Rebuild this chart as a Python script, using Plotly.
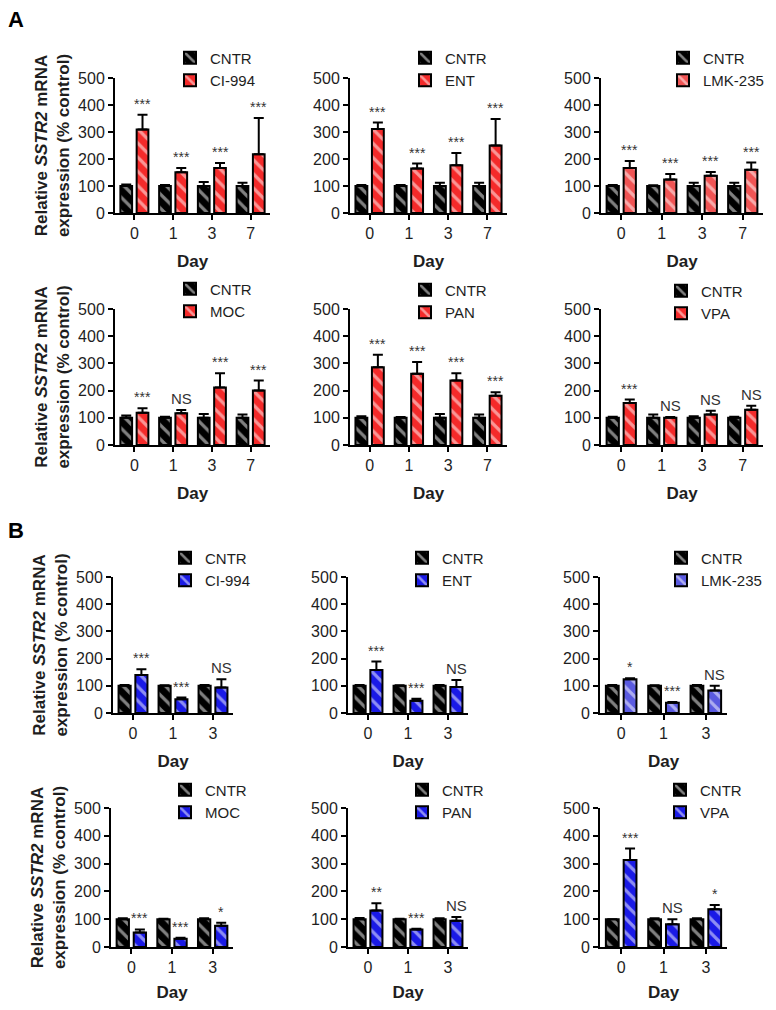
import plotly.graph_objects as go

# ---------------- data ----------------
days_A = ["0", "1", "3", "7"]
days_B = ["0", "1", "3"]

# Panel A (red)
A_CI994_cntr = [100, 100, 100, 100]
A_CI994_cntr_err = [6, 4, 15, 12]
A_CI994_trt = [309, 151, 167, 218]
A_CI994_trt_err = [55, 16, 18, 134]
A_CI994_sig = ["***", "***", "***", "***"]

A_ENT_cntr = [100, 100, 100, 100]
A_ENT_cntr_err = [4, 4, 12, 12]
A_ENT_trt = [311, 165, 177, 250]
A_ENT_trt_err = [24, 18, 45, 98]
A_ENT_sig = ["***", "***", "***", "***"]

A_LMK_cntr = [100, 100, 100, 100]
A_LMK_cntr_err = [4, 3, 12, 12]
A_LMK_trt = [167, 124, 138, 160]
A_LMK_trt_err = [26, 20, 14, 27]
A_LMK_sig = ["***", "***", "***", "***"]

A_MOC_cntr = [100, 100, 100, 100]
A_MOC_cntr_err = [8, 4, 14, 12]
A_MOC_trt = [119, 117, 211, 200]
A_MOC_trt_err = [16, 12, 53, 37]
A_MOC_sig = ["***", "NS", "***", "***"]

A_PAN_cntr = [100, 100, 100, 100]
A_PAN_cntr_err = [6, 3, 14, 12]
A_PAN_trt = [286, 262, 237, 181]
A_PAN_trt_err = [46, 43, 27, 13]
A_PAN_sig = ["***", "***", "***", "***"]

A_VPA_cntr = [100, 100, 100, 100]
A_VPA_cntr_err = [4, 12, 6, 4]
A_VPA_trt = [154, 100, 112, 130]
A_VPA_trt_err = [13, 3, 14, 14]
A_VPA_sig = ["***", "NS", "NS", "NS"]

# Panel B (blue)
B_CI994_cntr = [100, 100, 100]
B_CI994_cntr_err = [3, 2, 3]
B_CI994_trt = [140, 51, 94]
B_CI994_trt_err = [21, 6, 30]
B_CI994_sig = ["***", "***", "NS"]

B_ENT_cntr = [100, 100, 100]
B_ENT_cntr_err = [3, 2, 3]
B_ENT_trt = [158, 45, 96]
B_ENT_trt_err = [31, 7, 25]
B_ENT_sig = ["***", "***", "NS"]

B_LMK_cntr = [100, 100, 100]
B_LMK_cntr_err = [3, 2, 3]
B_LMK_trt = [124, 38, 83]
B_LMK_trt_err = [4, 2, 17]
B_LMK_sig = ["*", "***", "NS"]

B_MOC_cntr = [100, 100, 100]
B_MOC_cntr_err = [3, 2, 3]
B_MOC_trt = [52, 30, 76]
B_MOC_trt_err = [11, 3, 11]
B_MOC_sig = ["***", "***", "*"]

B_PAN_cntr = [100, 100, 100]
B_PAN_cntr_err = [4, 2, 3]
B_PAN_trt = [131, 63, 94]
B_PAN_trt_err = [26, 3, 14]
B_PAN_sig = ["**", "***", "NS"]

B_VPA_cntr = [100, 100, 100]
B_VPA_cntr_err = [0, 3, 3]
B_VPA_trt = [313, 82, 136]
B_VPA_trt_err = [41, 18, 15]
B_VPA_sig = ["***", "NS", "*"]

y_ticks = [0, 100, 200, 300, 400, 500]

# ---------------- styling / layout ----------------
PAGE_W, PAGE_H = 776, 1010
BODY = 8                      # default page body margin
W, H = PAGE_W - 2 * BODY, PAGE_H - 2 * BODY
FONT = "Liberation Sans, Arial, Helvetica, sans-serif"
TXT = "#1e1e1e"
RED = "#f42a2a"
RED_L = "#f05454"
BLUE = "#1a1ae6"
BLUE_L = "#5a5ae0"
bargap = 0.16
bargroupgap = 0.28
half = (1 - bargap) / 4


def fx(px):
    return (px - BODY) / W


def fy(py):
    return 1 - (py - BODY) / H


# (label, days, cntr, cntr_err, trt, trt_err, sig, colour, x px domain, y px domain, legend text x, legend mid y, ytitle)
panels = [
    ("CI-994", days_A, A_CI994_cntr, A_CI994_cntr_err, A_CI994_trt, A_CI994_trt_err, A_CI994_sig, RED, (115, 270), (78, 213), 210, 69, True),
    ("ENT", days_A, A_ENT_cntr, A_ENT_cntr_err, A_ENT_trt, A_ENT_trt_err, A_ENT_sig, RED, (350, 507), (78, 213), 445, 69, False),
    ("LMK-235", days_A, A_LMK_cntr, A_LMK_cntr_err, A_LMK_trt, A_LMK_trt_err, A_LMK_sig, RED_L, (601, 763), (78, 213), 703, 69, False),
    ("MOC", days_A, A_MOC_cntr, A_MOC_cntr_err, A_MOC_trt, A_MOC_trt_err, A_MOC_sig, RED, (115, 270), (309, 445), 210, 300, True),
    ("PAN", days_A, A_PAN_cntr, A_PAN_cntr_err, A_PAN_trt, A_PAN_trt_err, A_PAN_sig, RED, (350, 507), (309, 445), 445, 301, False),
    ("VPA", days_A, A_VPA_cntr, A_VPA_cntr_err, A_VPA_trt, A_VPA_trt_err, A_VPA_sig, RED, (601, 763), (309, 445), 701, 302, False),
    ("CI-994", days_B, B_CI994_cntr, B_CI994_cntr_err, B_CI994_trt, B_CI994_trt_err, B_CI994_sig, BLUE, (113, 233), (577, 713), 205, 569, True),
    ("ENT", days_B, B_ENT_cntr, B_ENT_cntr_err, B_ENT_trt, B_ENT_trt_err, B_ENT_sig, BLUE, (348, 468), (577, 713), 442, 569, False),
    ("LMK-235", days_B, B_LMK_cntr, B_LMK_cntr_err, B_LMK_trt, B_LMK_trt_err, B_LMK_sig, BLUE_L, (600, 727), (577, 713), 701, 569, False),
    ("MOC", days_B, B_MOC_cntr, B_MOC_cntr_err, B_MOC_trt, B_MOC_trt_err, B_MOC_sig, BLUE, (111, 233), (808, 947), 205, 801, True),
    ("PAN", days_B, B_PAN_cntr, B_PAN_cntr_err, B_PAN_trt, B_PAN_trt_err, B_PAN_sig, BLUE, (348, 468), (808, 947), 442, 801, False),
    ("VPA", days_B, B_VPA_cntr, B_VPA_cntr_err, B_VPA_trt, B_VPA_trt_err, B_VPA_sig, BLUE, (600, 727), (808, 947), 700, 801, False),
]

fig = go.Figure()
layout = {}
annotations = []

for k, (drug, days, cntr, cntr_err, trt, trt_err, sig, col, xd, yd, lx, ly, ytitle) in enumerate(panels, start=1):
    n = len(days)
    xs = list(range(n))
    sfx = "" if k == 1 else str(k)
    leg = "legend" if k == 1 else f"legend{k}"
    for name, vals, errs, colour in (("CNTR", cntr, cntr_err, "black"), (drug, trt, trt_err, col)):
        fig.add_trace(go.Bar(
            x=xs, y=vals, name=name,
            xaxis=f"x{sfx}", yaxis=f"y{sfx}", legend=leg,
            marker=dict(color=colour, line=dict(color="black", width=2),
                        pattern=dict(shape="\\", fgcolor="white", fillmode="overlay",
                                     size=10, solidity=0.32)),
            error_y=dict(type="data", array=errs, arrayminus=[0] * n, symmetric=False,
                         color="black", thickness=2, width=5),
            showlegend=True, hoverinfo="skip",
        ))
    for i in xs:
        annotations.append(dict(
            x=i + half, y=trt[i] + trt_err[i], xref=f"x{sfx}", yref=f"y{sfx}",
            text=sig[i], showarrow=False, yanchor="bottom", yshift=1,
            font=dict(size=15 if sig[i] == "NS" else 14, color="#333333", family=FONT),
        ))
    layout[f"xaxis{sfx}"] = dict(
        domain=[fx(xd[0]), fx(xd[1])], anchor=f"y{sfx}",
        range=[-0.5, n - 0.5], tickmode="array", tickvals=xs, ticktext=days,
        ticks="outside", ticklen=5, tickwidth=2, tickcolor="black",
        showline=True, linewidth=2, linecolor="black", showgrid=False, zeroline=False,
        tickfont=dict(size=16, color=TXT, family=FONT), automargin=False,
        title=dict(text="<b>Day</b>", font=dict(size=17, color=TXT, family=FONT), standoff=14),
        fixedrange=True,
    )
    ya = dict(
        domain=[fy(yd[1]), fy(yd[0])], anchor=f"x{sfx}",
        range=[0, 500], tickmode="array", tickvals=y_ticks,
        ticks="outside", ticklen=5, tickwidth=2, tickcolor="black",
        showline=True, linewidth=2, linecolor="black", showgrid=False, zeroline=False,
        tickfont=dict(size=16, color=TXT, family=FONT), fixedrange=True, automargin=False,
    )
    if ytitle:
        ya["title"] = dict(text="<b>Relative <i>SSTR2</i> mRNA<br>expression (% control)</b>",
                           font=dict(size=17, color=TXT, family=FONT), standoff=4)
    layout[f"yaxis{sfx}"] = ya
    layout[leg] = dict(
        x=fx(lx - 40), y=fy(ly), xanchor="left", yanchor="middle",
        bgcolor="rgba(0,0,0,0)", font=dict(size=15, color=TXT, family=FONT),
        traceorder="normal", itemclick=False, itemdoubleclick=False,
    )

annotations.append(dict(x=fx(6), y=fy(19), xref="paper", yref="paper", text="<b>A</b>",
                        showarrow=False, xanchor="left", yanchor="middle",
                        font=dict(size=22, color="black", family=FONT)))
annotations.append(dict(x=fx(6), y=fy(530), xref="paper", yref="paper", text="<b>B</b>",
                        showarrow=False, xanchor="left", yanchor="middle",
                        font=dict(size=22, color="black", family=FONT)))

fig.update_layout(
    width=W, height=H, margin=dict(l=0, r=0, t=0, b=0, autoexpand=False),
    paper_bgcolor="white", plot_bgcolor="white",
    barmode="group", bargap=bargap, bargroupgap=bargroupgap,
    font=dict(family=FONT, color=TXT),
    annotations=annotations, **layout,
)

fig.write_html("out.html")
